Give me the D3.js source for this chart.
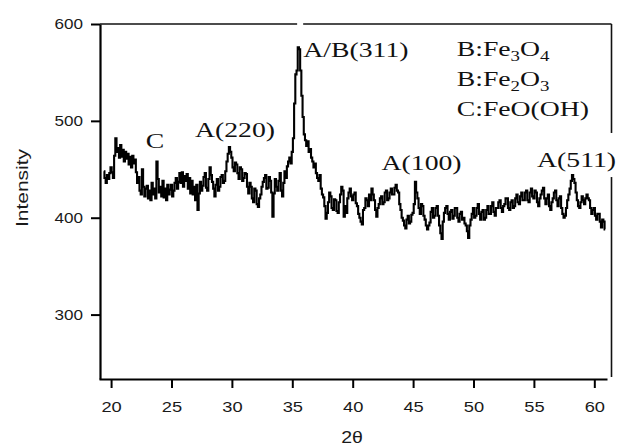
<!DOCTYPE html>
<html>
<head>
<meta charset="utf-8">
<script src="https://cdn.jsdelivr.net/npm/d3@7/dist/d3.min.js"></script>
<style>
  html, body { margin: 0; padding: 0; background: #fff; }
  svg { display: block; }
</style>
</head>
<body>
<svg id="chart" width="619" height="448"></svg>
<script>
// XRD pattern: intensity sampled every 0.1 degrees of 2θ, starting at 19.4
const scanStart = 19.4;
const scanStep = 0.1;
const intensity = [
  448, 441, 436, 444, 440, 446, 452, 447, 441, 464,   // 19.4 - 20.3
  482, 468, 472, 462, 475, 463, 470, 458, 468, 461,   // 20.4 - 21.3
  466, 455, 463, 452, 464, 456, 460, 447, 436, 442,   // 21.4 - 22.3
  428, 424, 450, 432, 422, 430, 433, 420, 428, 418,   // 22.4 - 23.3
  436, 424, 430, 420, 458, 440, 426, 432, 422, 438,   // 23.4 - 24.3
  421, 430, 418, 434, 424, 429, 434, 422, 428, 436,   // 24.4 - 25.3
  441, 430, 437, 446, 436, 447, 432, 443, 438, 445,   // 25.4 - 26.3
  430, 441, 425, 438, 424, 432, 418, 434, 408, 425,   // 26.4 - 27.3
  437, 428, 433, 442, 446, 431, 428, 440, 452, 444,   // 27.4 - 28.3
  437, 430, 422, 434, 440, 428, 432, 442, 444, 436,   // 28.4 - 29.3
  438, 448, 458, 466, 473, 468, 462, 452, 448, 457,   // 29.4 - 30.3
  455, 446, 440, 452, 450, 438, 441, 446, 445, 432,   // 30.4 - 31.3
  425, 436, 432, 420, 416, 430, 428, 414, 411, 420,   // 31.4 - 32.3
  424, 432, 437, 441, 444, 430, 431, 442, 438, 426,   // 32.4 - 33.3
  401, 425, 440, 432, 428, 438, 446, 428, 422, 436,   // 33.4 - 34.3
  448, 441, 453, 458, 462, 456, 468, 482, 518, 548,   // 34.4 - 35.3
  552, 576, 574, 552, 526, 504, 486, 480, 474, 479,   // 35.4 - 36.3
  468, 471, 462, 458, 452, 456, 446, 441, 438, 444,   // 36.4 - 37.3
  430, 424, 421, 412, 399, 405, 416, 426, 422, 410,   // 37.4 - 38.3
  408, 419, 418, 407, 405, 416, 424, 432, 428, 401,   // 38.4 - 39.3
  412, 405, 420, 426, 430, 422, 418, 424, 426, 415,   // 39.4 - 40.3
  412, 404, 400, 396, 393, 408, 410, 420, 418, 412,   // 40.4 - 41.3
  424, 418, 430, 424, 418, 408, 401, 410, 414, 420,   // 41.4 - 42.3
  422, 414, 416, 426, 428, 418, 420, 426, 430, 424,   // 42.4 - 43.3
  424, 431, 434, 428, 426, 414, 408, 400, 397, 392,   // 43.4 - 44.3
  389, 398, 402, 394, 396, 403, 405, 414, 437, 426,   // 44.4 - 45.3
  420, 410, 404, 414, 412, 402, 398, 392, 388, 392,   // 45.4 - 46.3
  395, 406, 410, 400, 402, 410, 412, 402, 392, 384,   // 46.4 - 47.3
  378, 396, 405, 410, 412, 404, 398, 406, 408, 399,   // 47.4 - 48.3
  402, 410, 410, 400, 396, 404, 406, 398, 400, 394,   // 48.4 - 49.3
  392, 386, 379, 392, 398, 404, 410, 400, 402, 410,   // 49.4 - 50.3
  414, 404, 398, 406, 408, 398, 400, 408, 412, 404,   // 50.4 - 51.3
  404, 412, 416, 406, 402, 410, 410, 416, 418, 410,   // 51.4 - 52.3
  406, 412, 414, 420, 420, 410, 408, 416, 418, 410,   // 52.4 - 53.3
  412, 420, 424, 416, 414, 422, 426, 418, 418, 426,   // 53.4 - 54.3
  428, 418, 416, 426, 430, 422, 420, 428, 426, 416,   // 54.4 - 55.3
  412, 420, 424, 428, 431, 420, 414, 420, 424, 412,   // 55.4 - 56.3
  408, 416, 420, 426, 428, 418, 412, 420, 422, 410,   // 56.4 - 57.3
  404, 400, 402, 410, 418, 424, 430, 438, 444, 440,   // 57.4 - 58.3
  436, 426, 418, 412, 410, 416, 422, 418, 414, 420,   // 58.4 - 59.3
  424, 420, 418, 410, 404, 408, 410, 402, 398, 404,   // 59.4 - 60.3
  404, 396, 390, 398, 396, 388                        // 60.4 - 60.9
];
const scan = intensity.map((v, i) => ({ angle: scanStart + i * scanStep, value: v }));

const xTicks = [20, 25, 30, 35, 40, 45, 50, 55, 60];
const yTicks = [300, 400, 500, 600];
const xTitle = "2θ";
const yTitle = "Intensity";

// Peak assignments, anchored in data coordinates (2θ, intensity)
const peakNames  = ["C", "A(220)", "A/B(311)", "A(100)", "A(511)"];
const peakAngles = [23.64, 30.26, 35.91, 45.70, 58.53];
const peakLevels = [471.7, 483.7, 566, 449.3, 452.4];
const peakAnchor = ["middle", "middle", "start", "middle", "middle"];

// Phase key: [prefix, subscript, middle, subscript]
const phaseKey = [
  ["B:Fe", "3", "O", "4"],
  ["B:Fe", "2", "O", "3"],
  ["C:FeO(OH)", "", "", ""]
];

const svg = d3.select("#chart");
const x = d3.scaleLinear().domain([19, 61.05]).range([99, 607]);
const y = d3.scaleLinear().domain([233.5, 600]).range([379, 24]);

const SANS = "'Liberation Sans', Arial, Helvetica, sans-serif";
const SERIF = "'Liberation Serif', 'Times New Roman', serif";
const sansStretch = 1.22;
const serifStretch = 1.26;

// Open frame on top and right
const frame = svg.append("g").attr("stroke", "#111").attr("stroke-width", 1.6).attr("fill", "none");
frame.append("line").attr("x1", 100).attr("x2", x(35.4)).attr("y1", y(600)).attr("y2", y(600));
frame.append("line").attr("x1", x(35.9)).attr("x2", 611.5).attr("y1", y(600)).attr("y2", y(600));
frame.append("line").attr("x1", 611.5).attr("x2", 611.5).attr("y1", y(600)).attr("y2", y(487.5));
frame.append("line").attr("x1", 611.5).attr("x2", 611.5).attr("y1", y(442)).attr("y2", 377);

// Axes
const yAxis = svg.append("g")
  .attr("transform", "translate(100,0)")
  .call(d3.axisLeft(y).tickValues(yTicks).tickSize(9).tickSizeOuter(0).tickPadding(8));
const xAxis = svg.append("g")
  .attr("transform", "translate(0,379)")
  .call(d3.axisBottom(x).tickValues(xTicks).tickSize(9).tickSizeOuter(0).tickPadding(8));

[yAxis, xAxis].forEach(g => {
  g.select(".domain").attr("stroke", "#000").attr("stroke-width", 2.2);
  g.selectAll(".tick line").attr("stroke", "#000").attr("stroke-width", 2);
});
yAxis.selectAll(".tick text")
  .attr("font-family", SANS).attr("font-size", 14).attr("fill", "#1a1a1a")
  .attr("x", -17 / sansStretch)
  .attr("transform", `scale(${sansStretch},1)`);
xAxis.selectAll(".tick text")
  .attr("font-family", SANS).attr("font-size", 15).attr("fill", "#1a1a1a")
  .attr("y", 33).attr("dy", 0)
  .attr("transform", `scale(${sansStretch},1)`);

// Axis titles
svg.append("g").attr("transform", "translate(352,443)")
  .append("text")
  .attr("text-anchor", "middle").attr("font-family", SANS).attr("font-size", 16).attr("fill", "#1a1a1a")
  .attr("transform", `scale(${sansStretch},1)`)
  .text(xTitle);
svg.append("g").attr("transform", "translate(28,188) rotate(-90)")
  .append("text")
  .attr("text-anchor", "middle").attr("font-family", SANS).attr("font-size", 16).attr("fill", "#1a1a1a")
  .attr("textLength", 78).attr("lengthAdjust", "spacingAndGlyphs")
  .text(yTitle);

// Diffraction trace
const line = d3.line().x(d => x(d.angle)).y(d => y(d.value)).curve(d3.curveStep);
svg.append("path")
  .datum(scan)
  .attr("fill", "none")
  .attr("stroke", "#000")
  .attr("stroke-width", 2.1)
  .attr("stroke-linejoin", "miter")
  .attr("d", line);

// Peak labels
peakNames.forEach((name, i) => {
  svg.append("g")
    .attr("transform", `translate(${x(peakAngles[i])},${y(peakLevels[i])})`)
    .append("text")
    .attr("text-anchor", peakAnchor[i])
    .attr("font-family", SERIF).attr("font-size", 22).attr("fill", "#111")
    .attr("transform", `scale(${serifStretch},1)`)
    .text(name);
});

// Phase key
const keyBaselines = [56, 86, 116];
phaseKey.forEach((row, i) => {
  const t = svg.append("g")
    .attr("transform", `translate(456.7,${keyBaselines[i]})`)
    .append("text")
    .attr("font-family", SERIF).attr("font-size", 22).attr("fill", "#111")
    .attr("transform", `scale(${serifStretch},1)`);
  t.append("tspan").text(row[0]);
  if (row[1]) {
    t.append("tspan").attr("font-size", 15).attr("dy", 5).text(row[1]);
    t.append("tspan").attr("dy", -5).text(row[2]);
    t.append("tspan").attr("font-size", 15).attr("dy", 5).text(row[3]);
  }
});
</script>
</body>
</html>
